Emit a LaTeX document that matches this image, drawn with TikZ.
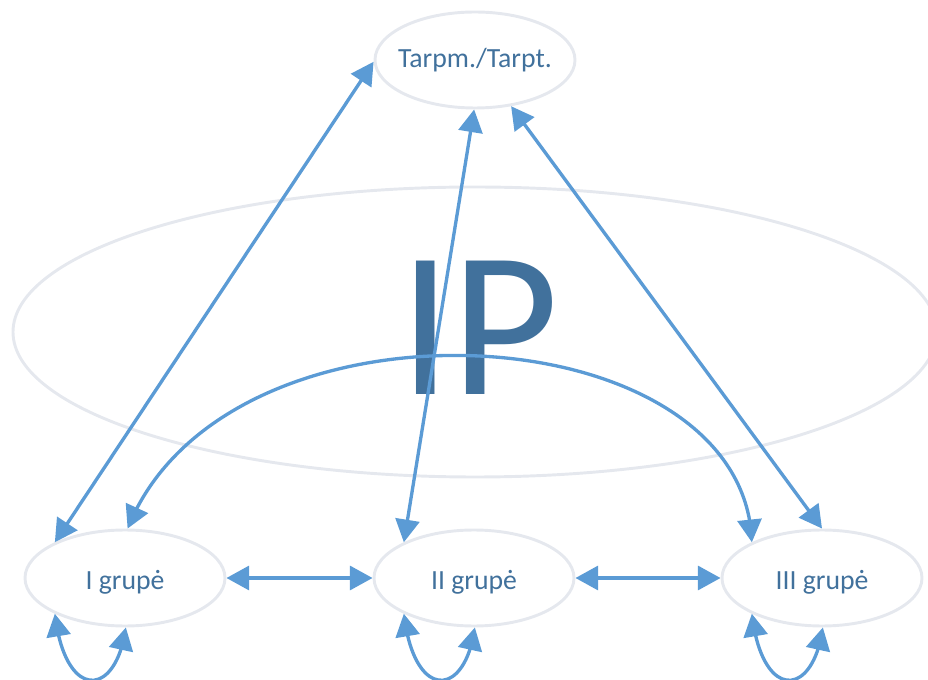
\documentclass[tikz,border=0pt]{standalone}
\usepackage{fontspec}
\setmainfont{Carlito}
\usetikzlibrary{arrows.meta,bending,shapes.geometric}
\definecolor{arrowblue}{HTML}{5B9BD5}
\definecolor{textblue}{HTML}{41719C}
\definecolor{ringgray}{HTML}{E5E8EE}
\begin{document}
\begin{tikzpicture}[x=0.75pt,y=-0.75pt,
  grp/.style={ellipse,draw=ringgray,line width=2.2pt,minimum width=150pt,minimum height=72pt,inner sep=0pt},
  lbl/.style={text=textblue,font=\fontsize{20.8}{24}\selectfont},
  glbl/.style={lbl,yshift=-3pt},
  link/.style={draw=arrowblue,line width=2.5pt,{Triangle[length=17pt,width=18pt,flex]}-{Triangle[length=17pt,width=18pt,flex]}}]
\useasboundingbox (0,0) rectangle (928,680);
% big background ring
\draw[ringgray,line width=2.2pt] (475,332) ellipse [x radius=346.5pt, y radius=108.75pt];
\node[text=textblue,font=\fontsize{156}{156}\selectfont,inner sep=0pt,anchor=base] (ip) at (479,395) {IP};
% nodes
\node[grp,label={[lbl]center:Tarpm./Tarpt.}] (T) at (475,60) {};
\node[grp,label={[glbl]center:I grupė}] (G1) at (125,578) {};
\node[grp,label={[glbl]center:II grupė}] (G2) at (474,578) {};
\node[grp,label={[glbl]center:III grupė}] (G3) at (822,578) {};
% connectors
\draw[link] (G1.153) -- (T.181);
\draw[link] (G2.153) -- (T.269);
\draw[link] (G3.90) -- (T.308);
\draw[link] (G1.87) .. controls +(98,-247) and +(-7,-232) .. (G3.153);
\draw[link] (G1.0) -- (G2.180);
\draw[link] (G2.0) -- (G3.180);
% self loops
\draw[link] (G1.207) .. controls +(10,87) and +(-10,72) .. (G1.271);
\draw[link] (G2.207) .. controls +(10,87) and +(-10,72) .. (G2.271);
\draw[link] (G3.207) .. controls +(10,87) and +(-10,72) .. (G3.271);
\end{tikzpicture}
\end{document}
